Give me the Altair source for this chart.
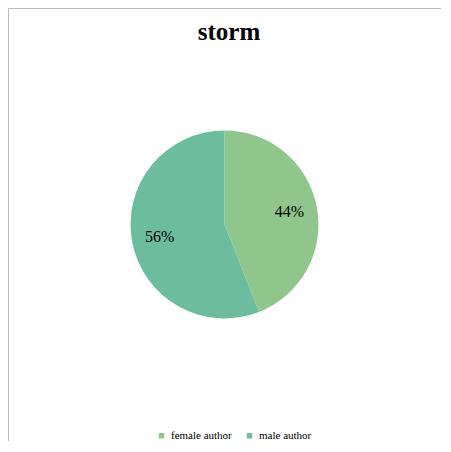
import altair as alt
import pandas as pd

categories = ["female author", "male author"]
shares = [44, 56]
labels = ["44%", "56%"]
palette = ["#8ec68b", "#6bbd9d"]

df = pd.DataFrame({"author": categories, "share": shares, "label": labels})

base = alt.Chart(df).encode(
    theta=alt.Theta("share:Q").stack(True),
    order=alt.Order("author:N"),
)

pie = base.mark_arc(outerRadius=94).encode(
    color=alt.Color("author:N")
    .scale(domain=categories, range=palette)
    .legend(orient="none", legendX=148, legendY=422, direction="horizontal",
            title=None, labelFont="Liberation Serif", labelFontSize=11,
            labelColor="black", symbolType="square", symbolSize=30, columnPadding=12)
)

text = base.mark_text(radius=66, font="Liberation Serif", fontSize=16, color="black").encode(
    text="label:N"
)

title = alt.Chart(pd.DataFrame({"t": ["storm"]})).mark_text(
    font="Liberation Serif", fontSize=25, fontWeight="bold", color="black"
).encode(text="t:N", x=alt.value(221), y=alt.value(24))

chart = (pie + text + title).properties(
    width=433, height=433, autosize=alt.AutoSizeParams(type="none"), padding=0
).configure_view(stroke="#bbbbbb")

chart.save("out.html", embed_options={"renderer": "svg", "actions": False})
